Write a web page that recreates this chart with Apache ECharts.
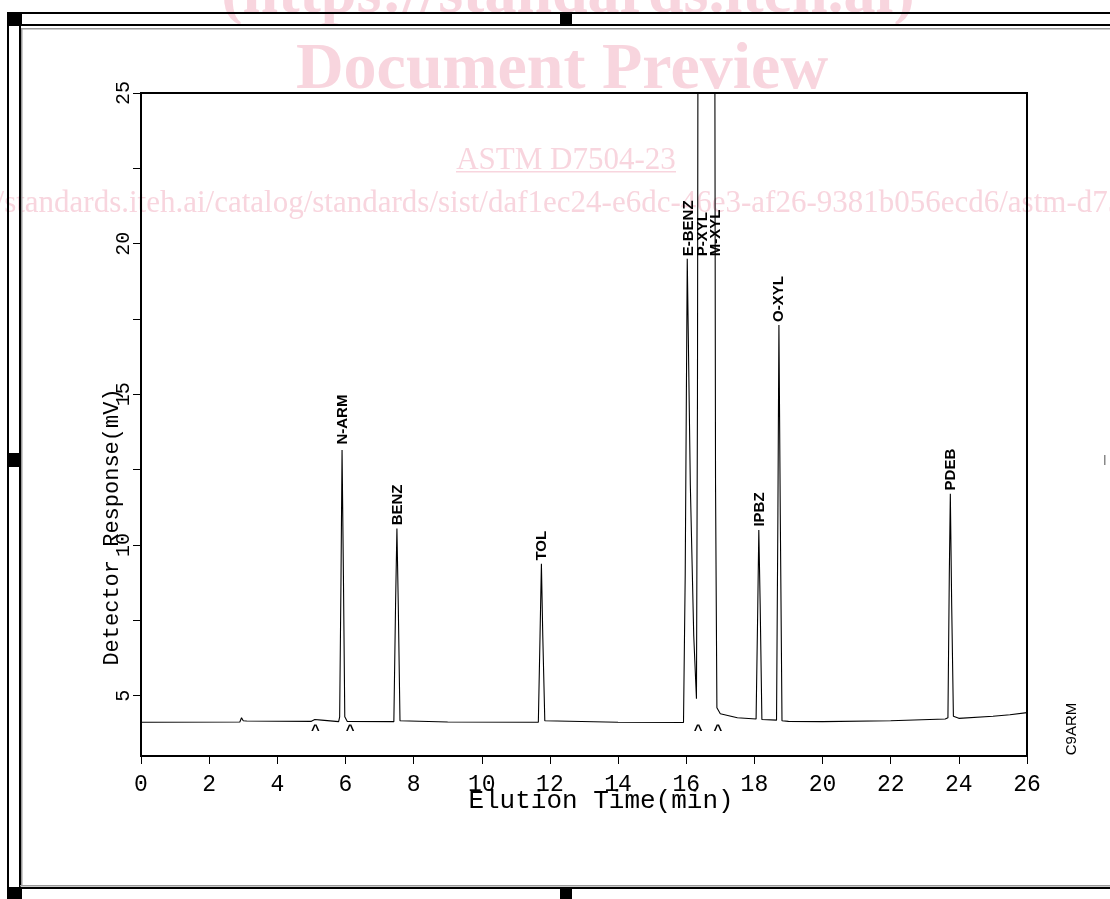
<!DOCTYPE html>
<html>
<head>
<meta charset="utf-8">
<script src="https://cdn.jsdelivr.net/npm/echarts@6/dist/echarts.min.js"></script>
<style>html,body{margin:0;padding:0;background:#fff;}#c{width:1110px;height:899px;}</style>
</head>
<body>
<div id="c"></div>
<script>
// Chromatogram trace: time (min) and response (mV)
var traceTime = [0, 2.9, 2.95, 3.0, 3.1, 5.0, 5.1, 5.3, 5.8, 5.83, 5.87, 5.9, 5.94, 5.98, 6.05,
  7.42, 7.47, 7.51, 7.55, 7.6, 9.0, 11.66, 11.71, 11.75, 11.79, 11.85, 14.0, 15.92, 15.97, 16.03,
  16.12, 16.22, 16.3, 16.33, 16.36, 16.6, 16.82, 16.86, 16.9, 17.0, 17.5, 18.05, 18.1, 18.13, 18.17,
  18.22, 18.65, 18.69, 18.72, 18.76, 18.81, 19.0, 20.0, 22.0, 23.6, 23.68, 23.72, 23.75, 23.79,
  23.84, 24.0, 25.0, 25.5, 26.0];
var traceValue = [4.12, 4.13, 4.27, 4.17, 4.16, 4.15, 4.21, 4.19, 4.14, 4.3, 9.0, 13.15, 9.0, 4.3, 4.15,
  4.14, 8.0, 10.55, 8.0, 4.17, 4.13, 4.12, 7.0, 9.38, 7.0, 4.17, 4.12, 4.11, 9.0, 19.5,
  12.0, 7.0, 4.9, 15.0, 40.0, 32.0, 40.0, 12.0, 4.6, 4.4, 4.27, 4.23, 8.0, 10.5, 8.0,
  4.21, 4.19, 11.0, 17.3, 11.0, 4.17, 4.15, 4.14, 4.17, 4.23, 4.27, 9.0, 11.7, 8.0,
  4.32, 4.25, 4.32, 4.37, 4.44];

// Peak labels: name, time of label, response at label foot
var peakNames = ['N-ARM', 'BENZ', 'TOL', 'E-BENZ', 'P-XYL', 'M-XYL', 'IPBZ', 'O-XYL', 'PDEB'];
var peakLabelTime = [5.93, 7.54, 11.76, 16.08, 16.50, 16.87, 18.16, 18.73, 23.76];
var peakLabelValue = [13.3, 10.62, 9.45, 19.55, 19.55, 19.55, 10.58, 17.37, 11.78];

// Baseline event markers "^"
var markerTime = [5.12, 6.14, 16.35, 16.93];
var markerValue = [3.82, 3.82, 3.82, 3.82];

// Axis ticks
var xTicks = [0, 2, 4, 6, 8, 10, 12, 14, 16, 18, 20, 22, 24, 26];
var yLabelValues = [5, 10, 15, 20, 25];
var yTickValues = [5, 7.5, 10, 12.5, 15, 17.5, 20, 22.5, 25];

var traceData = traceTime.map(function (t, i) { return [t, traceValue[i]]; });
var labelData = peakLabelTime.map(function (t, i) { return [t, peakLabelValue[i]]; });
var markerData = markerTime.map(function (t, i) { return [t, markerValue[i]]; });

var pink = '#f8d5de';
var mono = '"Liberation Mono", "DejaVu Sans Mono", monospace';
var sans = '"Liberation Sans", Arial, sans-serif';
var serif = '"Liberation Serif", "Times New Roman", serif';

function rect(x, y, w, h, fill, z) {
  return {type: 'rect', shape: {x: x, y: y, width: w, height: h}, style: {fill: fill}, silent: true, z: z || 2};
}

var chart = echarts.init(document.getElementById('c'), null, {renderer: 'canvas'});
chart.setOption({
  animation: false,
  backgroundColor: '#fff',
  grid: {left: 141, top: 93, width: 886, height: 663, show: true, borderColor: '#000', borderWidth: 2, backgroundColor: 'transparent', z: 3},
  xAxis: {
    type: 'value', min: 0, max: 26, interval: 2, z: 5,
    axisLine: {show: true, lineStyle: {color: '#000', width: 2}},
    axisTick: {show: true, length: 8, inside: false, lineStyle: {color: '#000', width: 1}},
    axisLabel: {show: true, margin: 17, color: '#000', fontFamily: mono, fontSize: 23,
      customValues: xTicks, formatter: function (v) { return String(v); }},
    splitLine: {show: false}
  },
  yAxis: {
    type: 'value', min: 3, max: 25, z: 5,
    axisLine: {show: true, lineStyle: {color: '#000', width: 2}},
    axisTick: {show: true, length: 8, inside: false, customValues: yTickValues, lineStyle: {color: '#000', width: 1}},
    axisLabel: {show: true, rotate: 90, margin: 7, color: '#000', fontFamily: mono, fontSize: 20,
      customValues: yLabelValues, formatter: function (v) { return String(v); }},
    splitLine: {show: false}
  },
  series: [
    {
      type: 'line', data: traceData, showSymbol: false, symbol: 'none', clip: true,
      lineStyle: {color: '#000', width: 1.1}, z: 6
    },
    {
      type: 'custom', data: labelData, clip: false, z: 7,
      renderItem: function (params, api) {
        var p = api.coord([api.value(0), api.value(1)]);
        return {
          type: 'text', x: p[0], y: p[1] - 1, rotation: Math.PI / 2,
          style: {text: peakNames[params.dataIndex], textAlign: 'left', textVerticalAlign: 'middle',
            font: 'bold 15px ' + sans, fill: '#000'}
        };
      }
    },
    {
      type: 'custom', data: markerData, clip: false, z: 7,
      renderItem: function (params, api) {
        var p = api.coord([api.value(0), api.value(1)]);
        return {
          type: 'text', x: p[0], y: p[1],
          style: {text: '^', textAlign: 'center', textVerticalAlign: 'middle',
            font: 'bold 15px ' + sans, fill: '#000'}
        };
      }
    }
  ],
  graphic: [
    // watermark (behind the chart)
    {type: 'text', x: 568, y: -37, silent: true, z: 1,
      style: {text: '(https://standards.iteh.ai)', font: 'bold 64px ' + serif, fill: pink, textAlign: 'center', textVerticalAlign: 'top'}},
    {type: 'text', x: 562, y: 38, silent: true, z: 1,
      style: {text: 'Document Preview', font: 'bold 66px ' + serif, fill: pink, textAlign: 'center', textVerticalAlign: 'top'}},
    {type: 'text', x: 566, y: 145, silent: true, z: 1,
      style: {text: 'ASTM D7504-23', font: '31px ' + serif, fill: pink, textAlign: 'center', textVerticalAlign: 'top'}},
    rect(456, 171, 220, 1.5, pink, 1),
    {type: 'text', x: -82, y: 188, silent: true, z: 1,
      style: {text: 'https://standards.iteh.ai/catalog/standards/sist/daf1ec24-e6dc-46e3-af26-9381b056ecd6/astm-d7504-23', font: '31px ' + serif, fill: pink, textAlign: 'left', textVerticalAlign: 'top'}},
    // page frame
    rect(7, 12, 1103, 2, '#000'),
    rect(20, 24, 1090, 2, '#000'),
    rect(21, 28, 1089, 1.5, '#999'),
    rect(7, 12, 15, 14, '#000'),
    rect(560, 12, 12, 14, '#000'),
    rect(7, 12, 2, 887, '#000'),
    rect(19, 24, 2, 864, '#000'),
    rect(21, 28, 1.5, 857, '#999'),
    rect(7, 453, 14, 14, '#000'),
    rect(20, 885, 1090, 1.5, '#999'),
    rect(7, 887, 1103, 2, '#000'),
    rect(7, 887, 15, 12, '#000'),
    rect(560, 887, 12, 12, '#000'),
    rect(1104, 455, 1.5, 10, '#888'),
    // axis names and sample id
    {type: 'text', x: 601, y: 801, silent: true, z: 8,
      style: {text: 'Elution Time(min)', font: '26px ' + mono, fill: '#000', textAlign: 'center', textVerticalAlign: 'middle'}},
    {type: 'text', x: 112, y: 527, rotation: Math.PI / 2, silent: true, z: 8,
      style: {text: 'Detector Response(mV)', font: '22px ' + mono, fill: '#000', textAlign: 'center', textVerticalAlign: 'middle'}},
    {type: 'text', x: 1072, y: 729, rotation: Math.PI / 2, silent: true, z: 8,
      style: {text: 'C9ARM', font: '15px ' + sans, fill: '#000', textAlign: 'center', textVerticalAlign: 'middle'}}
  ]
});
</script>
</body>
</html>
